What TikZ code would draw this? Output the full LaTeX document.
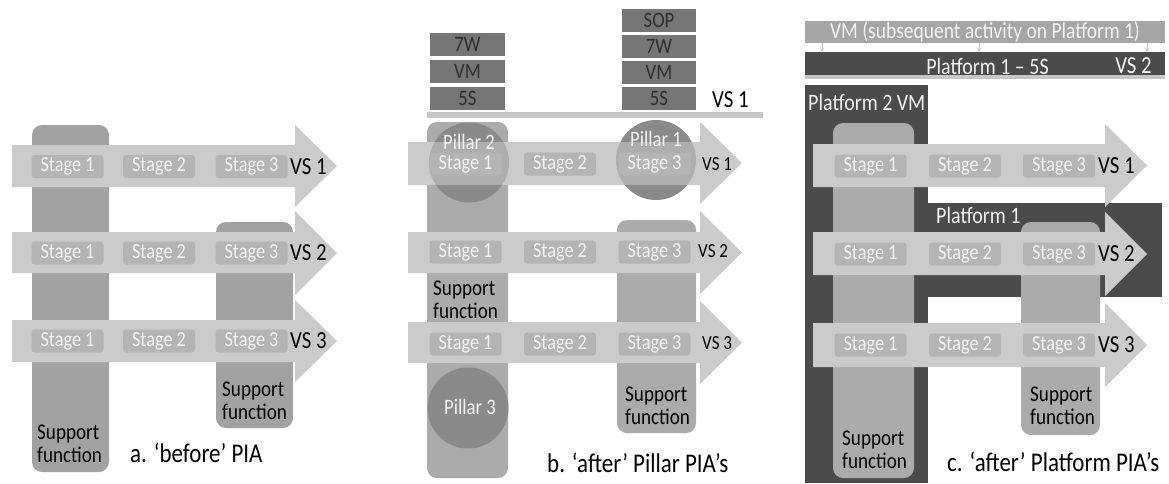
\documentclass[tikz,border=0pt]{standalone}
\usepackage{fontspec}
\setmainfont{Carlito}[FakeStretch=0.85]
\usetikzlibrary{arrows.meta}
\definecolor{bandcol}{HTML}{CBCBCB}
\definecolor{stagecol}{HTML}{B4B4B4}
\definecolor{colA}{HTML}{A2A2A2}
\definecolor{colB}{HTML}{ABABAB}
\definecolor{circcol}{HTML}{8A8A8A}
\definecolor{stackcol}{HTML}{767676}
\definecolor{stacktext}{HTML}{2E2E2E}
\definecolor{barcol}{HTML}{C6C6C6}
\definecolor{darkcol}{HTML}{4B4B4B}
\definecolor{vmcol}{HTML}{A6A6A6}
\definecolor{softwhite}{HTML}{F4F4F4}
\newcommand\vsarrow[7]{\fill[bandcol] (#1,#4) -- (#2,#4) -- (#2,#6) -- (#3,{(#6+#7)/2}) -- (#2,#7) -- (#2,#5) -- (#1,#5) -- cycle;}
\tikzset{
  stagebox/.style={fill=stagecol, rounded corners=3pt, minimum width=72pt, minimum height=23pt, inner sep=0pt, text=softwhite, font=\fontsize{21.5}{21.5}\selectfont},
  vslabel/.style={anchor=west, inner sep=0pt, font=\fontsize{24.5}{24.5}\selectfont},
  vssmall/.style={anchor=west, inner sep=0pt, font=\fontsize{20}{20}\selectfont},
  suptext/.style={anchor=west, inner sep=0pt, align=left, font=\fontsize{22.5}{23}\selectfont},
  caption/.style={anchor=west, inner sep=0pt, font=\fontsize{27}{27}\selectfont},
  stackbox/.style={fill=stackcol, minimum height=23pt, inner sep=0pt, text=stacktext, font=\fontsize{22}{22}\selectfont},
  column/.style={rounded corners=10pt},
  pillar/.style={inner sep=0pt, text=softwhite, font=\fontsize{22}{22}\selectfont},
  whitelabel/.style={inner sep=0pt, text=softwhite, font=\fontsize{22.5}{22.5}\selectfont},
  tinyarrow/.style={-{Stealth[length=4pt,width=4pt]}, draw=barcol, line width=0.6pt}
}
\begin{document}
\begin{tikzpicture}[x=1pt,y=-1pt]
\useasboundingbox (0,0) rectangle (1169,483);
\fill[white] (0,0) rectangle (1169,483);
% ================= Panel a =================
\fill[colA, column] (32,125) rectangle (109,472);
\fill[colA, column] (216,222) rectangle (293,428);
\vsarrow{12}{295}{337}{145}{187}{125}{207}
\vsarrow{12}{295}{337}{232}{273}{211}{295}
\vsarrow{12}{295}{337}{320}{362}{300}{382}
\foreach \r/\y in {1/166.5,2/253,3/341}{
  \node[stagebox] (a\r s1) at (67.5,\y) {Stage 1};
  \node[stagebox] (a\r s2) at (159,\y) {Stage 2};
  \node[stagebox] (a\r s3) at (251.5,\y) {Stage 3};
  \node[vslabel] (a\r vs) at (290,\y) {VS \r};
}
\node[suptext] (asup1) at (37,444) {Support\\function};
\node[suptext] (asup2) at (222,401) {Support\\function};
\node[caption] (capa) at (130,453) {a. ‘before’ PIA};
% ================= Panel b =================
\node[stackbox, minimum width=75pt] (bl7w) at (467.5,44.5) {7W};
\node[stackbox, minimum width=75pt] (blvm) at (467.5,71.5) {VM};
\node[stackbox, minimum width=75pt] (bl5s) at (467.5,98) {5S};
\node[stackbox, minimum width=74pt] (brsop) at (659,20) {SOP};
\node[stackbox, minimum width=74pt] (br7w) at (659,46) {7W};
\node[stackbox, minimum width=74pt] (brvm) at (659,72) {VM};
\node[stackbox, minimum width=74pt] (br5s) at (659,98) {5S};
\fill[barcol] (427,112) rectangle (763,118);
\node[vslabel] (btopvs) at (712,100) {VS 1};
\fill[colB, column] (427,122) rectangle (508,478);
\fill[colB, column] (617,220) rectangle (696,433);
\fill[circcol] (469,162.5) circle (40pt);
\fill[circcol] (656,160) circle (40pt);
\fill[circcol] (468,408) circle (40.5pt);
\vsarrow{408}{700}{742}{142}{185}{122}{204}
\vsarrow{408}{700}{742}{232}{273}{211}{294}
\vsarrow{408}{700}{742}{322}{363}{301}{384}
\begin{scope}
  \clip (408,142) rectangle (700,185);
  \fill[circcol, fill opacity=0.45] (469,162.5) circle (40pt);
  \fill[circcol, fill opacity=0.45] (656,160) circle (40pt);
\end{scope}
\foreach \r/\y in {1/164,2/252,3/344}{
  \node[stagebox] (b\r s1) at (465.5,\y) {Stage 1};
  \node[stagebox] (b\r s2) at (560,\y) {Stage 2};
  \node[stagebox] (b\r s3) at (654.5,\y) {Stage 3};
}
\node[vssmall] (b1vs) at (702,164) {VS 1};
\node[vssmall] (b2vs) at (698,251) {VS 2};
\node[vssmall] (b3vs) at (702,343) {VS 3};
\node[pillar] (p2) at (469,142) {Pillar 2};
\node[pillar] (p1) at (656,139) {Pillar 1};
\node[pillar] (p3) at (470,407) {Pillar 3};
\node[suptext] (bsup1) at (433,300) {Support\\function};
\node[suptext] (bsup2) at (625,406) {Support\\function};
\node[caption] (capb) at (547,463) {b. ‘after’ Pillar PIA’s};
% ================= Panel c =================
\node[fill=vmcol, minimum width=360pt, minimum height=22pt, inner sep=0pt, text=softwhite, font=\fontsize{23}{23}\selectfont] (vm) at (985,32) {VM (subsequent activity on Platform 1)};
\node[fill=darkcol, minimum width=360pt, minimum height=23pt, inner sep=0pt] (p15) at (985,63.5) {};
\node[whitelabel, anchor=center, font=\fontsize{23.5}{23.5}\selectfont] (p15t) at (987.5,66) {Platform 1 – 5S};
\node[whitelabel, anchor=east, font=\fontsize{24.5}{24.5}\selectfont] (vs2top) at (1152,66) {VS 2};
\fill[barcol] (805,75) rectangle (1165,79);
\foreach \xx/\nm in {822/ta,979/tb,1147/tc}{
  \coordinate (\nm1) at (\xx,43);
  \coordinate (\nm2) at (\xx,52);
  \draw[tinyarrow] (\nm1) -- (\nm2);
}
\fill[darkcol] (805,85) rectangle (928,483);
\fill[darkcol] (914,203) rectangle (1162,297);
\node[whitelabel, anchor=west, font=\fontsize{23.5}{23.5}\selectfont] (p2vm) at (808,102) {Platform 2 VM};
\node[whitelabel, anchor=west, font=\fontsize{23.5}{23.5}\selectfont] (p1lab) at (936,215) {Platform 1};
\fill[colB, column] (833,123) rectangle (914,478);
\fill[colB, column] (1021,222) rectangle (1100,435);
\vsarrow{813}{1105}{1147}{144}{187}{124}{207}
\vsarrow{813}{1105}{1147}{232}{275}{212}{296}
\vsarrow{813}{1105}{1147}{323}{367}{303}{387}
\foreach \r/\y in {1/166,2/254,3/345}{
  \node[stagebox] (c\r s1) at (870.5,\y) {Stage 1};
  \node[stagebox] (c\r s2) at (965,\y) {Stage 2};
  \node[stagebox] (c\r s3) at (1059,\y) {Stage 3};
  \node[vslabel] (c\r vs) at (1098,\y) {VS \r};
}
\node[suptext] (csup1) at (842,450) {Support\\function};
\node[suptext] (csup2) at (1030,406) {Support\\function};
\node[caption] (capc) at (947,462) {c. ‘after’ Platform PIA’s};
\end{tikzpicture}
\end{document}
